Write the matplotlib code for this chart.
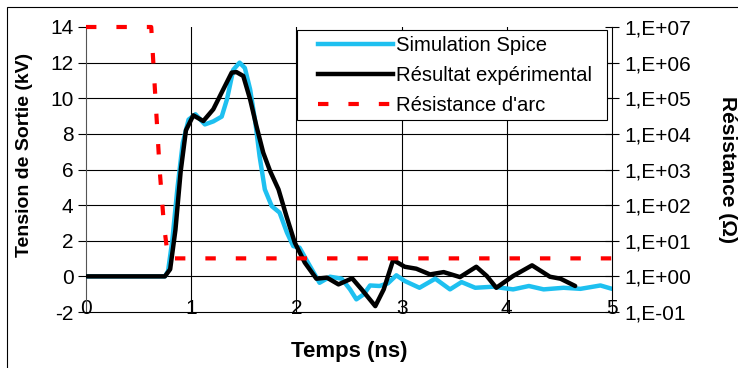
import matplotlib
matplotlib.use("Agg")
import matplotlib.pyplot as plt
from matplotlib.patches import Rectangle
from matplotlib.lines import Line2D

plt.rcParams['font.family'] = ['Liberation Sans', 'DejaVu Sans']

# Simulation Spice (time ns, kV)
sim_t = [0.0, 0.75, 0.78, 0.82, 0.87, 0.92, 0.975, 1.04, 1.13, 1.21, 1.29, 1.34, 1.40, 1.46,
         1.51, 1.56, 1.61, 1.65, 1.70, 1.765, 1.84, 1.91, 1.97, 2.03, 2.11, 2.22, 2.32, 2.43,
         2.51, 2.57, 2.64, 2.70, 2.79, 2.87, 2.95, 3.03, 3.17, 3.32, 3.46, 3.57, 3.70, 3.87,
         4.06, 4.21, 4.35, 4.54, 4.70, 4.89, 5.0]
sim_v = [0.0, 0.0, 0.3, 2.0, 5.0, 7.5, 8.8, 9.1, 8.53, 8.7, 8.97, 9.94, 11.6, 12.0,
         11.7, 10.5, 8.63, 6.75, 4.88, 3.95, 3.58, 2.46, 1.70, 1.61, 0.77, -0.36, -0.02, -0.13,
         -0.73, -1.29, -1.01, -0.51, -0.54, -0.39, 0.06, -0.26, -0.64, -0.13, -0.73, -0.32, -0.64, -0.58,
         -0.73, -0.54, -0.73, -0.64, -0.70, -0.51, -0.70]

# Résultat expérimental (time ns, kV)
exp_t = [0.0, 0.75, 0.80, 0.85, 0.90, 0.95, 1.02, 1.115, 1.21, 1.305, 1.385, 1.43, 1.495,
         1.56, 1.62, 1.685, 1.75, 1.83, 1.905, 1.985, 2.08, 2.19, 2.29, 2.40, 2.53, 2.62,
         2.75, 2.83, 2.92, 3.03, 3.14, 3.27, 3.40, 3.555, 3.71, 3.81, 3.90, 4.06, 4.24, 4.41,
         4.51, 4.65]
exp_v = [0.0, 0.0, 0.4, 2.6, 5.9, 8.2, 9.04, 8.72, 9.38, 10.5, 11.44, 11.47, 11.25,
         9.94, 8.44, 6.94, 5.91, 4.88, 3.39, 1.89, 0.77, -0.13, -0.07, -0.45, -0.11, -0.73,
         -1.67, -0.73, 0.92, 0.54, 0.43, 0.11, 0.24, -0.04, 0.54, 0.02, -0.64, 0.02, 0.62, -0.02,
         -0.13, -0.54]

# Résistance d'arc (time ns, ohm)
res_t = [0.0, 0.62, 0.66, 0.70, 0.74, 0.78, 5.0]
res_r = [1e7, 1e7, 1e5, 1e3, 3e1, 3.2, 3.2]

left_ticks = [-2, 0, 2, 4, 6, 8, 10, 12, 14]
right_ticks = [1e-1, 1e0, 1e1, 1e2, 1e3, 1e4, 1e5, 1e6, 1e7]
right_labels = ['1,E-01', '1,E+00', '1,E+01', '1,E+02', '1,E+03', '1,E+04', '1,E+05', '1,E+06', '1,E+07']
x_ticks = [0, 1, 2, 3, 4, 5]

W, H = 738, 368
fig = plt.figure(figsize=(W / 100, H / 100), dpi=100)
fig.patches.append(Rectangle((7 / W, -0.05), 1.0, 1.05 - 7 / H,
                             transform=fig.transFigure, fill=False, edgecolor='black', lw=0.8))

ax = fig.add_axes([86 / W, 1 - 312 / H, (612 - 86) / W, (312 - 27) / H])
ax.set_xlim(0, 5)
ax.set_ylim(-2, 14)
ax.set_xticks(x_ticks)
ax.set_xticklabels([str(v) for v in x_ticks])
ax.set_yticks(left_ticks)
ax.set_yticklabels([str(v) for v in left_ticks])
for s in ['top', 'right']:
    ax.spines[s].set_visible(False)
ax.spines['left'].set_color('#555555')
ax.spines['bottom'].set_color('black')
for v in left_ticks[1:-1]:
    ax.axhline(v, color='black', lw=0.8, zorder=0)
for v in x_ticks[1:-1]:
    ax.axvline(v, color='black', lw=0.8, zorder=0)
ax.tick_params(axis='y', direction='out', length=6, width=0.8, labelsize=15, pad=3)
ax.tick_params(axis='x', length=0, labelsize=15, pad=-9)

ax.plot(sim_t, sim_v, color='#1ec0f0', lw=3.2, solid_joinstyle='round', solid_capstyle='round', zorder=3)
ax.plot(exp_t, exp_v, color='black', lw=3.2, solid_joinstyle='round', solid_capstyle='round', zorder=4)

ax2 = ax.twinx()
ax2.set_yscale('log')
ax2.set_ylim(1e-1, 1e7)
ax2.set_yticks(right_ticks)
ax2.set_yticklabels(right_labels)
ax2.yaxis.set_minor_locator(matplotlib.ticker.NullLocator())
for s in ['top', 'left', 'bottom']:
    ax2.spines[s].set_visible(False)
ax2.spines['right'].set_color('black')
ax2.tick_params(axis='y', direction='inout', length=10, width=0.8, labelsize=15, pad=4)
ax2.plot(res_t, res_r, color='#ff0000', lw=3.0, dashes=(2.5, 4.8), dash_capstyle='butt',
         clip_on=False, zorder=5)

fig.text(25 / W, 1 - 155 / H, 'Tension de Sortie (kV)', rotation=90, ha='center', va='center',
         fontsize=14, fontweight='bold')
fig.text(349 / W, 1 - 352 / H, 'Temps (ns)', ha='center', va='center', fontsize=16, fontweight='bold')
fig.text(728 / W, 1 - 169 / H, 'Résistance (Ω)', rotation=-90, ha='center', va='center',
         fontsize=15, fontweight='bold')

# legend frame drawn separately
fig.patches.append(Rectangle((297 / W, 1 - 120 / H), (607 - 297) / W, 90 / H,
                             transform=fig.transFigure, facecolor='white', edgecolor='black',
                             lw=0.8, zorder=9))
handles = [Line2D([], [], color='#1ec0f0', lw=3.2),
           Line2D([], [], color='black', lw=3.2),
           Line2D([], [], color='#ff0000', lw=3.0, dashes=(2.5, 4.8), dash_capstyle='butt')]
labels = ['Simulation Spice', 'Résultat expérimental', "Résistance d'arc"]
leg = fig.legend(handles, labels, loc='upper left', bbox_to_anchor=(312 / W, 1 - 30 / H),
                 bbox_transform=fig.transFigure, fontsize=14.6, frameon=False,
                 handlelength=3.7, handletextpad=0.12, borderpad=0.3, labelspacing=0.55,
                 borderaxespad=0)
leg.set_zorder(10)

fig.savefig('out.png', dpi=100)
